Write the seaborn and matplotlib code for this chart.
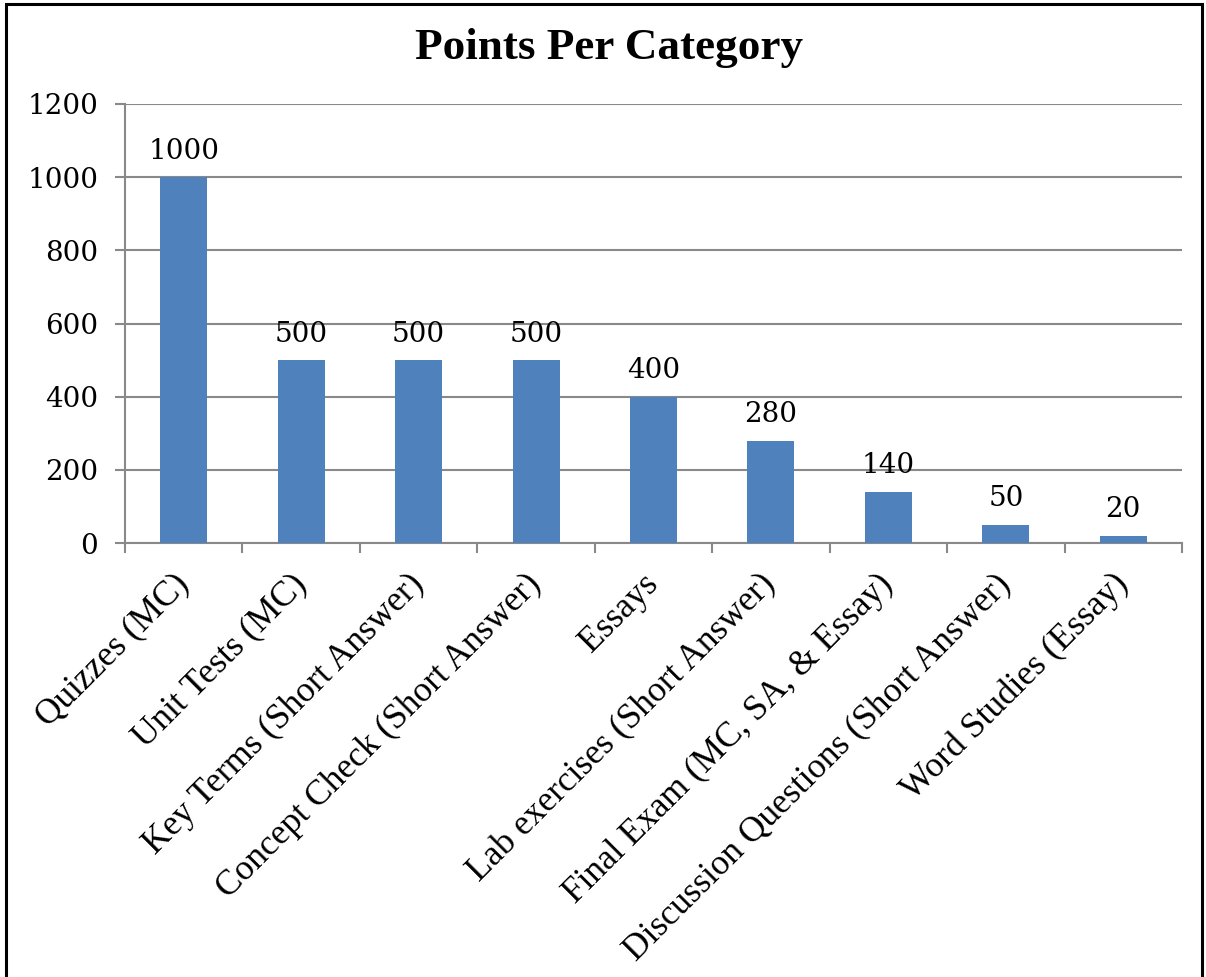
import matplotlib
matplotlib.use("Agg")
import matplotlib.pyplot as plt
from matplotlib.patches import Rectangle
import seaborn as sns
import pandas as pd
import numpy as np

categories = [
    "Quizzes (MC)",
    "Unit Tests (MC)",
    "Key Terms (Short Answer)",
    "Concept Check (Short Answer)",
    "Essays",
    "Lab exercises (Short Answer)",
    "Final Exam (MC, SA, & Essay)",
    "Discussion Questions (Short Answer)",
    "Word Studies (Essay)",
]
points = [1000, 500, 500, 500, 400, 280, 140, 50, 20]
yticks = [0, 200, 400, 600, 800, 1000, 1200]
title = "Points Per Category"

df = pd.DataFrame({"Category": categories, "Points": points})

sns.set_theme(style="white")
plt.rcParams["text.color"] = "black"
W, H = 1206, 977
fig = plt.figure(figsize=(W / 100, H / 100), dpi=100)
ax = fig.add_axes([125 / W, 1 - 543 / H, (1182 - 125) / W, (543 - 104) / H])

sns.barplot(data=df, x="Category", y="Points", color="#4F81BD", width=0.4,
            saturation=1, linewidth=0, ax=ax, zorder=3)

grid_col = "#898989"
ax.set_xlim(-0.5, len(categories) - 0.5)
ax.set_ylim(0, 1200)
ax.set_yticks(yticks)
ax.set_yticklabels([str(v) for v in yticks], fontfamily="DejaVu Serif",
                   fontsize=20, color="black")
ax.yaxis.grid(True, color=grid_col, linewidth=1.5, zorder=0)
ax.xaxis.grid(False)
ax.set_xlabel("")
ax.set_ylabel("")

for s in ["top", "right"]:
    ax.spines[s].set_visible(False)
for s in ["left", "bottom"]:
    ax.spines[s].set_color(grid_col)
    ax.spines[s].set_linewidth(1.5)

ax.tick_params(axis="y", which="major", left=True, length=7.2, width=1.5,
               color=grid_col, pad=12, labelcolor="black")
ax.set_xticks(np.arange(-0.5, len(categories)), minor=True)
ax.tick_params(axis="x", which="minor", bottom=True, length=7.2, width=1.5,
               color=grid_col)
ax.tick_params(axis="x", which="major", length=0, pad=26)
ax.set_xticks(range(len(categories)))
ax.set_xticklabels(categories, rotation=45, ha="right", va="center",
                   rotation_mode="anchor", fontfamily="Liberation Serif",
                   fontsize=25.5, color="black")

for i, v in enumerate(points):
    ax.annotate(str(v), (i, v), xytext=(0, 9), textcoords="offset points",
                ha="center", va="bottom", fontfamily="DejaVu Serif",
                fontsize=20, color="black")

fig.text(609 / W, 1 - 48 / H, title, ha="center", va="center", color="black",
         fontfamily="Liberation Serif", fontweight="bold", fontsize=32.5)

border = Rectangle((6 / W, -0.05), (W - 10) / W, 1 - 4 / H + 0.05,
                   transform=fig.transFigure, fill=False, edgecolor="black",
                   linewidth=2.2)
fig.patches.append(border)

fig.savefig("out.png", dpi=100)
